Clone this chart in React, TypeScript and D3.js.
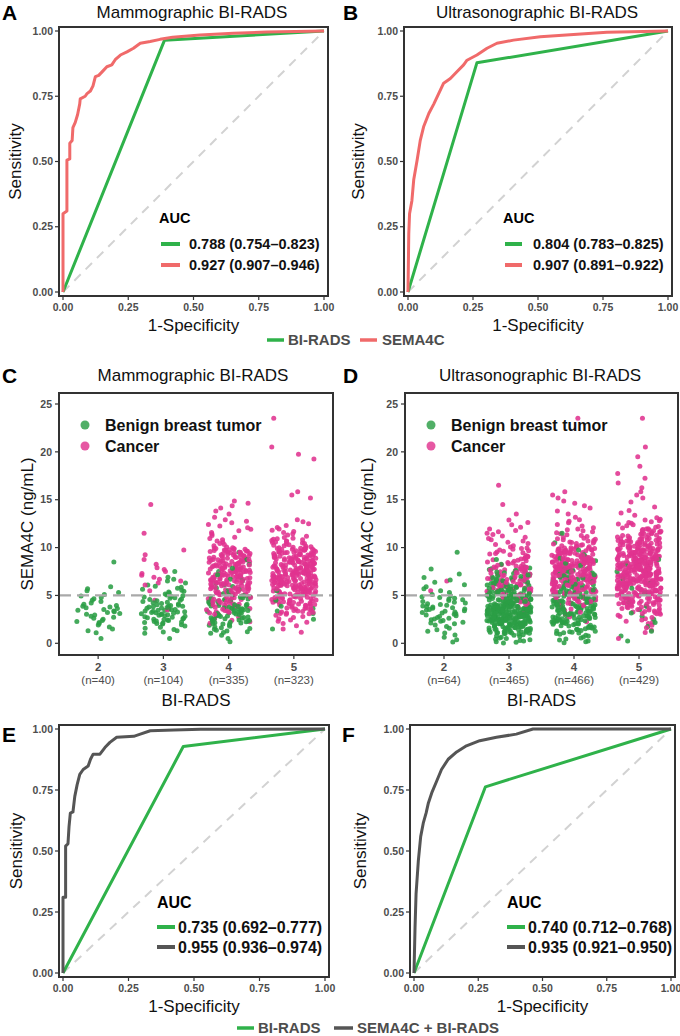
import React from 'react';
import * as d3 from 'd3';

const FONT = "'Liberation Sans', Arial, Helvetica, sans-serif";
const TICK_COLOR = '#4d4d4d';
const GREEN_LINE = '#2fb24a';
const RED_LINE = '#f06a6a';
const GRAY_LINE = '#555555';
const BENIGN_COLOR = '#2b9e45';
const CANCER_COLOR = '#e0338f';

// ---------- ROC data (1-specificity, sensitivity) ----------
const rocTicks = [0, 0.25, 0.5, 0.75, 1];
const rocTickLabels = ['0.00', '0.25', '0.50', '0.75', '1.00'];

const rocA_birads: [number, number][] = [[0, 0], [0.389, 0.965], [1, 1]];
const rocA_sema4c: [number, number][] = [
  [0, 0], [0, 0.30], [0.015, 0.31], [0.015, 0.505], [0.026, 0.51], [0.026, 0.57], [0.035, 0.58],
  [0.038, 0.63], [0.047, 0.65], [0.056, 0.68], [0.064, 0.72], [0.066, 0.74], [0.085, 0.75],
  [0.092, 0.76], [0.105, 0.77], [0.115, 0.79], [0.124, 0.825], [0.137, 0.83], [0.156, 0.85],
  [0.168, 0.863], [0.187, 0.87], [0.2, 0.89], [0.22, 0.908], [0.245, 0.92], [0.27, 0.934],
  [0.296, 0.953], [0.334, 0.96], [0.372, 0.968], [0.42, 0.976], [0.525, 0.985], [0.653, 0.991],
  [0.78, 0.996], [1, 1],
];
const rocB_birads: [number, number][] = [[0, 0], [0.265, 0.878], [1, 1]];
const rocB_sema4c: [number, number][] = [
  [0, 0], [0.003, 0.224], [0.006, 0.30], [0.015, 0.35], [0.022, 0.43], [0.035, 0.505],
  [0.047, 0.58], [0.06, 0.633], [0.08, 0.684], [0.099, 0.72], [0.118, 0.76], [0.137, 0.80],
  [0.163, 0.818], [0.188, 0.844], [0.214, 0.87], [0.227, 0.888], [0.265, 0.908], [0.304, 0.934],
  [0.342, 0.953], [0.406, 0.965], [0.509, 0.978], [0.637, 0.987], [0.765, 0.995], [1, 1],
];
const rocE_birads: [number, number][] = [[0, 0], [0.459, 0.928], [1, 1]];
const rocE_combined: [number, number][] = [
  [0, 0], [0, 0.31], [0.01, 0.31], [0.01, 0.52], [0.019, 0.53], [0.023, 0.60], [0.028, 0.655],
  [0.038, 0.66], [0.045, 0.724], [0.054, 0.772], [0.064, 0.814], [0.077, 0.834], [0.096, 0.848],
  [0.105, 0.876], [0.115, 0.897], [0.141, 0.897], [0.16, 0.924], [0.179, 0.945], [0.205, 0.966],
  [0.27, 0.97], [0.295, 0.979], [0.333, 0.993], [0.423, 0.996], [0.526, 0.999], [1, 1],
];
const rocF_birads: [number, number][] = [[0, 0], [0.278, 0.763], [1, 1]];
const rocF_combined: [number, number][] = [
  [0, 0], [0.004, 0.186], [0.008, 0.324], [0.017, 0.462], [0.026, 0.559], [0.036, 0.614],
  [0.047, 0.655], [0.056, 0.697], [0.069, 0.738], [0.088, 0.786], [0.107, 0.834], [0.133, 0.876],
  [0.166, 0.906], [0.204, 0.931], [0.256, 0.952], [0.321, 0.966], [0.398, 0.979], [0.463, 1.0],
  [1, 1],
];

const aucA = ['0.788 (0.754\u20130.823)', '0.927 (0.907\u20130.946)'];
const aucB = ['0.804 (0.783\u20130.825)', '0.907 (0.891\u20130.922)'];
const aucE = ['0.735 (0.692\u20130.777)', '0.955 (0.936\u20130.974)'];
const aucF = ['0.740 (0.712\u20130.768)', '0.935 (0.921\u20130.950)'];

// ---------- SEMA4C strip data ----------
const biradsCategories = ['2', '3', '4', '5'];
const mammoN = [40, 104, 335, 323];
const ultraN = [64, 465, 466, 429];
const semaTicks = [0, 5, 10, 15, 20, 25];
const semaCutoff = 5;

// Counts per 1 ng/mL bin (bin k covers k..k+1 ng/mL)
const mammoBenignBins = [
  [1, 5, 9, 12, 7, 5, 0, 0, 1],
  [1, 8, 20, 25, 15, 10, 5, 1],
  [3, 12, 22, 24, 18, 7, 5, 3, 2, 1],
  [0, 1, 1, 4, 1, 1],
];
const mammoCancerBins = [
  [],
  [0, 0, 0, 1, 1, 1, 5, 5, 2, 2, 0, 1, 0, 0, 1],
  [0, 0, 6, 15, 22, 31, 35, 36, 36, 30, 8, 6, 6, 3, 4],
  [0, 3, 8, 20, 30, 40, 48, 48, 42, 38, 18, 8, 5, 0, 0, 3, 0, 0, 0, 2, 1, 0, 0, 1],
];
const ultraBenignBins = [
  [4, 6, 12, 16, 12, 5, 4, 2, 0, 1],
  [15, 45, 75, 80, 55, 30, 18, 12, 2],
  [10, 22, 35, 38, 30, 22, 14, 10, 4, 2, 1, 1],
  [2, 2, 3, 3, 2, 2, 2, 1, 2],
];
const ultraCancerBins = [
  [0, 0, 0, 0, 0, 1, 1],
  [0, 0, 0, 3, 8, 20, 25, 24, 17, 14, 8, 7, 4, 1, 1, 0, 1],
  [0, 0, 2, 6, 20, 30, 42, 46, 48, 38, 18, 10, 6, 3, 4, 3, 0, 0, 0, 0, 0, 0, 0, 1],
  [1, 4, 8, 20, 32, 45, 55, 58, 54, 47, 35, 22, 12, 4, 2, 3, 2, 2, 1, 1, 1, 0, 0, 1],
];

// ---------- helpers ----------
function hash(n: number) {
  const s = Math.sin(n * 12.9898 + 78.233) * 43758.5453;
  return s - Math.floor(s);
}

type Box = [number, number, number, number];

interface RocCfg {
  box: Box;
  letter: string;
  letterX: number;
  letterY: number;
  title?: string;
  titleX?: number;
  titleY?: number;
  curves: { data: [number, number][]; color: string }[];
  auc: string[];
  aucColors: string[];
  aucX: number;
  aucY: number;
  lineX0: number;
  lineX1: number;
  textX: number;
  row1: number;
  row2: number;
  aucSize: number;
  yTitleX: number;
}

function RocPanel({ p }: { p: RocCfg }) {
  const [x0, y0, x1, y1] = p.box;
  const x = d3.scaleLinear().domain([0, 1]).range([x0 + 4, x1 - 4]);
  const y = d3.scaleLinear().domain([0, 1]).range([y1 - 4, y0 + 4]);
  const line = d3.line<[number, number]>().x((d) => x(d[0])).y((d) => y(d[1]));
  return (
    <g>
      {p.title && (
        <text x={p.titleX} y={p.titleY} fontSize={17} textAnchor="middle" dy="0.35em" fill="#111">
          {p.title}
        </text>
      )}
      <text x={p.letterX} y={p.letterY} fontSize={21} fontWeight="bold" fill="#000">
        {p.letter}
      </text>
      <line x1={x(0)} y1={y(0)} x2={x(1)} y2={y(1)} stroke="#d2d2d2" strokeWidth={2} strokeDasharray="9 7" />
      {p.curves.map((c, i) => (
        <path key={i} d={line(c.data) || ''} fill="none" stroke={c.color} strokeWidth={3} strokeLinejoin="round" />
      ))}
      <rect x={x0} y={y0} width={x1 - x0} height={y1 - y0} fill="none" stroke="#333" strokeWidth={2} />
      {rocTicks.map((t, i) => (
        <g key={'x' + i}>
          <line x1={x(t)} x2={x(t)} y1={y1} y2={y1 + 4} stroke="#333" strokeWidth={1.2} />
          <text x={x(t)} y={y1 + 11} dy="0.35em" textAnchor="middle" fontSize={10.5} fontWeight="bold" fill={TICK_COLOR}>
            {rocTickLabels[i]}
          </text>
          <line x1={x0 - 4} x2={x0} y1={y(t)} y2={y(t)} stroke="#333" strokeWidth={1.2} />
          <text x={x0 - 6} y={y(t)} dy="0.35em" textAnchor="end" fontSize={10.5} fontWeight="bold" fill={TICK_COLOR}>
            {rocTickLabels[i]}
          </text>
        </g>
      ))}
      <text x={(x0 + x1) / 2} y={y1 + 29} dy="0.35em" textAnchor="middle" fontSize={17} fill="#111">
        1-Specificity
      </text>
      <text
        transform={`translate(${p.yTitleX},${(y0 + y1) / 2}) rotate(-90)`}
        textAnchor="middle"
        dy="0.35em"
        fontSize={17}
        fill="#111"
      >
        Sensitivity
      </text>
      <text x={p.aucX} y={p.aucY} dy="0.35em" fontSize={p.aucSize} fontWeight="bold" fill="#000">
        AUC
      </text>
      {p.auc.map((s, i) => {
        const yy = i === 0 ? p.row1 : p.row2;
        return (
          <g key={'a' + i}>
            <line x1={p.lineX0} x2={p.lineX1} y1={yy} y2={yy} stroke={p.aucColors[i]} strokeWidth={4} />
            <text x={p.textX} y={yy} dy="0.35em" fontSize={p.aucSize} fontWeight="bold" fill="#111">
              {s}
            </text>
          </g>
        );
      })}
    </g>
  );
}

interface StripCfg {
  box: Box;
  letter: string;
  letterX: number;
  letterY: number;
  title: string;
  titleX: number;
  titleY: number;
  benign: number[][];
  cancer: number[][];
  n: number[];
  yTitleX: number;
  seed: number;
}

function StripPanel({ p }: { p: StripCfg }) {
  const [x0, y0, x1, y1] = p.box;
  const x = d3.scalePoint<string>().domain(biradsCategories).range([x0, x1]).padding(0.6);
  const step = x.step();
  const y = d3.scaleLinear().domain([0, 25]).range([y1 - 11.7, y0 + 11]);
  type Pt = { cx: number; cy: number; color: string; order: number };
  const pts: Pt[] = [];
  let k = p.seed;
  biradsCategories.forEach((cat, ci) => {
    const groups: [number[], string][] = [
      [p.benign[ci], BENIGN_COLOR],
      [p.cancer[ci], CANCER_COLOR],
    ];
    groups.forEach(([bins, color]) => {
      bins.forEach((c, b) => {
        for (let i = 0; i < c; i++) {
          const v = b + (i + 0.5) / c;
          k += 1;
          const jit = (hash(k) - 0.5) * 2 * 0.34 * step;
          pts.push({ cx: (x(cat) as number) + jit, cy: y(v), color, order: hash(k + 7777) });
        }
      });
    });
  });
  pts.sort((a, b) => a.order - b.order);
  return (
    <g>
      <text x={p.titleX} y={p.titleY} fontSize={17} textAnchor="middle" dy="0.35em" fill="#111">
        {p.title}
      </text>
      <text x={p.letterX} y={p.letterY} fontSize={21} fontWeight="bold" fill="#000">
        {p.letter}
      </text>
      {pts.map((d, i) => (
        <circle key={i} cx={d.cx} cy={d.cy} r={2.5} fill={d.color} fillOpacity={0.88} />
      ))}
      <line x1={x0} x2={x1} y1={y(semaCutoff)} y2={y(semaCutoff)} stroke="#a9a9a9" strokeWidth={2.2} strokeDasharray="12 6" />
      <rect x={x0} y={y0} width={x1 - x0} height={y1 - y0} fill="none" stroke="#333" strokeWidth={2} />
      {semaTicks.map((t) => (
        <g key={'y' + t}>
          <line x1={x0 - 4} x2={x0} y1={y(t)} y2={y(t)} stroke="#333" strokeWidth={1.2} />
          <text x={x0 - 7} y={y(t)} dy="0.35em" textAnchor="end" fontSize={10.5} fontWeight="bold" fill={TICK_COLOR}>
            {t}
          </text>
        </g>
      ))}
      {biradsCategories.map((cat, i) => (
        <g key={'c' + cat}>
          <line x1={x(cat)} x2={x(cat)} y1={y1} y2={y1 + 4} stroke="#333" strokeWidth={1.2} />
          <text x={x(cat)} y={y1 + 12} dy="0.35em" textAnchor="middle" fontSize={11.5} fontWeight="bold" fill={TICK_COLOR}>
            {cat}
          </text>
          <text x={x(cat)} y={y1 + 25} dy="0.35em" textAnchor="middle" fontSize={11.5} fill={TICK_COLOR}>
            {`(n=${p.n[i]})`}
          </text>
        </g>
      ))}
      <text x={(x0 + x1) / 2} y={y1 + 45} dy="0.35em" textAnchor="middle" fontSize={17} fill="#111">
        BI-RADS
      </text>
      <text
        transform={`translate(${p.yTitleX},${(y0 + y1) / 2}) rotate(-90)`}
        textAnchor="middle"
        dy="0.35em"
        fontSize={17}
        fill="#111"
      >
        SEMA4C (ng/mL)
      </text>
      <circle cx={x0 + 26} cy={y0 + 32} r={4.5} fill={BENIGN_COLOR} fillOpacity={0.82} />
      <text x={x0 + 46} y={y0 + 32} dy="0.35em" fontSize={16} fontWeight="bold" fill="#111">
        Benign breast tumor
      </text>
      <circle cx={x0 + 26} cy={y0 + 53} r={4.5} fill={CANCER_COLOR} fillOpacity={0.82} />
      <text x={x0 + 46} y={y0 + 53} dy="0.35em" fontSize={16} fontWeight="bold" fill="#111">
        Cancer
      </text>
    </g>
  );
}

const panelA: RocCfg = {
  box: [59, 27, 328, 296], letter: 'A', letterX: 2, letterY: 20,
  title: 'Mammographic BI-RADS', titleX: 192, titleY: 12,
  curves: [{ data: rocA_birads, color: GREEN_LINE }, { data: rocA_sema4c, color: RED_LINE }],
  auc: aucA, aucColors: [GREEN_LINE, RED_LINE], aucX: 159, aucY: 218,
  lineX0: 161, lineX1: 180, textX: 189, row1: 244, row2: 265, aucSize: 14.5, yTitleX: 15,
};
const panelB: RocCfg = {
  box: [404, 27, 672, 296], letter: 'B', letterX: 343, letterY: 20,
  title: 'Ultrasonographic BI-RADS', titleX: 537, titleY: 12,
  curves: [{ data: rocB_birads, color: GREEN_LINE }, { data: rocB_sema4c, color: RED_LINE }],
  auc: aucB, aucColors: [GREEN_LINE, RED_LINE], aucX: 503, aucY: 218,
  lineX0: 505, lineX1: 522, textX: 533, row1: 244, row2: 265, aucSize: 14.5, yTitleX: 358,
};
const panelE: RocCfg = {
  box: [59, 725, 329, 977], letter: 'E', letterX: 2, letterY: 742,
  curves: [{ data: rocE_birads, color: GREEN_LINE }, { data: rocE_combined, color: GRAY_LINE }],
  auc: aucE, aucColors: [GREEN_LINE, GRAY_LINE], aucX: 157, aucY: 902,
  lineX0: 157, lineX1: 175, textX: 178, row1: 927, row2: 947, aucSize: 16, yTitleX: 16,
};
const panelF: RocCfg = {
  box: [410, 725, 675, 977], letter: 'F', letterX: 342, letterY: 742,
  curves: [{ data: rocF_birads, color: GREEN_LINE }, { data: rocF_combined, color: GRAY_LINE }],
  auc: aucF, aucColors: [GREEN_LINE, GRAY_LINE], aucX: 507, aucY: 902,
  lineX0: 507, lineX1: 525, textX: 528, row1: 927, row2: 947, aucSize: 16, yTitleX: 360,
};
const panelC: StripCfg = {
  box: [59, 393, 333, 655], letter: 'C', letterX: 2, letterY: 383,
  title: 'Mammographic BI-RADS', titleX: 193, titleY: 375,
  benign: mammoBenignBins, cancer: mammoCancerBins, n: mammoN, yTitleX: 27, seed: 1,
};
const panelD: StripCfg = {
  box: [405, 393, 678, 655], letter: 'D', letterX: 343, letterY: 383,
  title: 'Ultrasonographic BI-RADS', titleX: 540, titleY: 375,
  benign: ultraBenignBins, cancer: ultraCancerBins, n: ultraN, yTitleX: 367, seed: 5001,
};

function SharedLegend({ y, items }: { y: number; items: { x0: number; x1: number; tx: number; color: string; label: string }[] }) {
  return (
    <g>
      {items.map((it, i) => (
        <g key={i}>
          <line x1={it.x0} x2={it.x1} y1={y} y2={y} stroke={it.color} strokeWidth={3.5} />
          <text x={it.tx} y={y} dy="0.35em" fontSize={15} fontWeight="bold" fill={TICK_COLOR}>
            {it.label}
          </text>
        </g>
      ))}
    </g>
  );
}

export default function App() {
  return (
    <svg
      width={680}
      height={1036}
      style={{ position: 'absolute', left: 0, top: 0, background: '#fff' }}
      fontFamily={FONT}
    >
      <rect width={680} height={1036} fill="#fff" />
      <RocPanel p={panelA} />
      <RocPanel p={panelB} />
      <SharedLegend
        y={340}
        items={[
          { x0: 267, x1: 284, tx: 288, color: GREEN_LINE, label: 'BI-RADS' },
          { x0: 360, x1: 377, tx: 382, color: RED_LINE, label: 'SEMA4C' },
        ]}
      />
      <StripPanel p={panelC} />
      <StripPanel p={panelD} />
      <RocPanel p={panelE} />
      <RocPanel p={panelF} />
      <SharedLegend
        y={1028}
        items={[
          { x0: 237, x1: 254, tx: 258, color: GREEN_LINE, label: 'BI-RADS' },
          { x0: 334, x1: 353, tx: 357, color: GRAY_LINE, label: 'SEMA4C + BI-RADS' },
        ]}
      />
    </svg>
  );
}
